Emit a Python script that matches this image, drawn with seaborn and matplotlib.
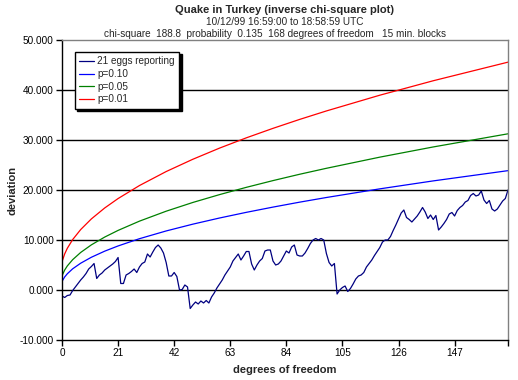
import matplotlib
matplotlib.use("Agg")
import numpy as np
import pandas as pd
import matplotlib.pyplot as plt
import seaborn as sns

sns.set_style('ticks')
plt.rcParams['font.family'] = ['Liberation Sans', 'DejaVu Sans']

# Observed deviation, one value per degree of freedom (index 0 -> 1 df)
egg_dev = [-1.2, -1.5, -1.1, -1.0, -0.1, 0.6, 1.3, 2.0, 2.6, 3.3,
           4.2, 4.7, 5.3, 2.3, 3.0, 3.4, 4.0, 4.4, 4.8, 5.2,
           5.7, 6.5, 1.3, 1.3, 3.0, 3.3, 3.7, 4.2, 3.5, 4.6,
           5.3, 5.6, 7.2, 6.6, 7.6, 8.5, 9.0, 8.4, 7.4, 5.5,
           2.8, 2.8, 3.5, 2.7, 0.0, 0.1, 1.0, 0.6, -3.7, -3.0,
           -2.4, -2.8, -2.2, -2.6, -2.1, -2.6, -1.4, -0.6, 0.4, 1.2,
           2.0, 3.0, 3.8, 4.6, 5.8, 6.5, 7.2, 6.0, 6.8, 7.7,
           7.7, 5.2, 4.0, 5.0, 5.8, 6.3, 7.8, 8.0, 8.0, 5.8,
           5.0, 5.2, 5.8, 6.8, 7.8, 7.4, 8.6, 9.0, 7.0, 6.8,
           6.8, 7.4, 8.3, 9.3, 10.0, 10.3, 10.0, 10.3, 10.0, 7.3,
           5.5, 4.8, 5.3, -0.8, 0.0, 0.5, 0.8, -0.3, 0.3, 1.2,
           2.2, 2.8, 3.0, 3.5, 4.6, 5.3, 6.0, 6.9, 7.7, 8.5,
           9.6, 10.0, 10.0, 10.7, 11.9, 13.0, 14.2, 15.4, 16.0, 14.5,
           14.1, 13.6, 14.2, 14.8, 15.6, 16.5, 15.6, 14.3, 15.0, 14.1,
           14.9, 12.0, 12.6, 13.3, 14.1, 15.2, 15.5, 14.8, 15.9, 16.5,
           16.9, 17.6, 17.9, 18.9, 19.3, 18.8, 19.0, 19.8, 18.0, 17.3,
           17.9, 16.2, 15.8, 16.2, 17.0, 17.8, 18.3, 20.0]
egg_x = list(range(len(egg_dev)))

# Inverse chi-square curves, read at a few points (x = df - 1)
curve_x = [0, 1, 2, 4, 7, 11, 16, 21, 29, 39, 49, 59, 69, 79, 89, 99, 119, 139, 167]
p10 = [1.71, 2.61, 3.25, 4.24, 5.36, 6.55, 7.77, 8.81, 10.26, 11.81, 13.17,
       14.40, 15.53, 16.58, 17.57, 18.50, 20.23, 21.82, 23.87]
p05 = [2.84, 3.99, 4.82, 6.07, 7.51, 9.03, 10.59, 11.92, 13.77, 15.76, 17.51,
       19.08, 20.53, 21.88, 23.15, 24.34, 26.57, 28.61, 31.24]
p01 = [5.64, 7.21, 8.35, 10.09, 12.09, 14.22, 16.41, 18.29, 20.89, 23.69, 26.15,
       28.38, 30.43, 32.33, 34.12, 35.81, 38.96, 41.85, 45.57]

fig = plt.figure(figsize=(5.18, 3.80), dpi=100)
ax = fig.add_axes([62/518, 1-340/380, 446/518, 300/380])

lw = 0.9
sns.lineplot(x=egg_x, y=egg_dev, color='#000080', lw=lw, ax=ax, label='21 eggs reporting')
sns.lineplot(x=curve_x, y=p10, color='#0000ff', lw=lw, ax=ax, label='p=0.10')
sns.lineplot(x=curve_x, y=p05, color='#008000', lw=lw, ax=ax, label='p=0.05')
sns.lineplot(x=curve_x, y=p01, color='#ff0000', lw=lw, ax=ax, label='p=0.01')

ax.set_xlim(0, 167)
ax.set_ylim(-10, 50)
yt = np.arange(-10, 51, 10)
ax.set_yticks(yt)
ax.set_yticklabels(["{:.3f}".format(v) for v in yt])
xt = [0, 21, 42, 63, 84, 105, 126, 147, 167]
ax.set_xticks(xt)
ax.set_xticklabels([str(v) for v in xt[:-1]] + [''])
for v in [0, 10, 20, 30, 40]:
    ax.axhline(v, color='black', lw=1.0, zorder=0)

ax.tick_params(axis='both', direction='out', length=4, width=1, colors='black',
               labelsize=7.2, pad=2)
for s in ['left', 'bottom']:
    ax.spines[s].set_color('black')
    ax.spines[s].set_linewidth(1.0)
for s in ['top', 'right']:
    ax.spines[s].set_visible(True)
    ax.spines[s].set_color('#808080')
    ax.spines[s].set_linewidth(1.0)

ax.set_xlabel("degrees of freedom", fontsize=8, fontweight='bold', labelpad=5)
ax.set_ylabel("")
fig.text(13/518, 1-190/380, "deviation", rotation=90, ha='center', va='center',
         fontsize=8, fontweight='bold')

leg = ax.legend(loc='upper left', bbox_to_anchor=(0.029, 0.96), borderaxespad=0,
                fontsize=7.2, frameon=True, fancybox=False, edgecolor='black',
                framealpha=1, shadow={'color': 'black', 'alpha': 1, 'ox': 1.5, 'oy': -1.5},
                handlelength=1.5, labelspacing=0.25, borderpad=0.45, handletextpad=0.3)
leg.get_frame().set_linewidth(1.0)

fig.text(0.55, 1-10/380, "Quake in Turkey (inverse chi-square plot)", ha='center', va='center',
         fontsize=8, fontweight='bold')
fig.text(0.55, 1-22/380, "10/12/99 16:59:00 to 18:58:59 UTC", ha='center', va='center', fontsize=7.2)
fig.text(0.53, 1-34/380, "chi-square  188.8  probability  0.135  168 degrees of freedom   15 min. blocks",
         ha='center', va='center', fontsize=7.2)

fig.savefig("out.png", dpi=100)
